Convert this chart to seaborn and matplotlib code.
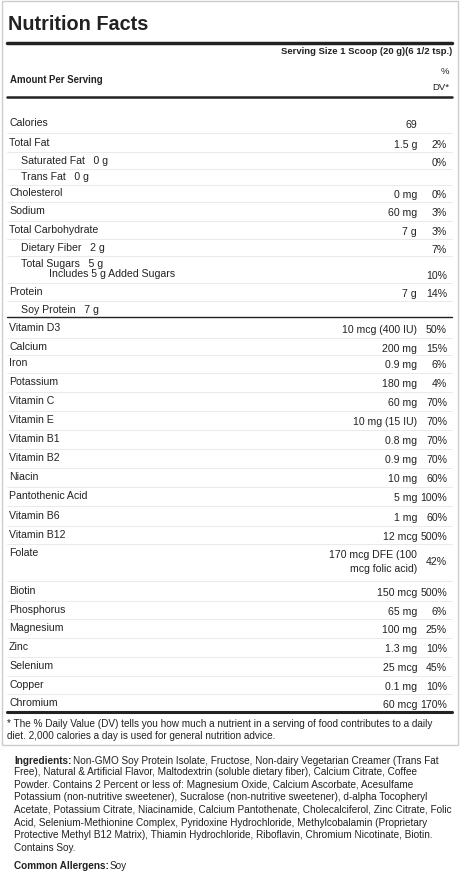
import matplotlib
matplotlib.use("Agg")
import matplotlib.pyplot as plt
import seaborn as sns

sns.set_theme(style="white")
plt.rcParams['font.family'] = ['Liberation Sans', 'DejaVu Sans']

labels = ["Calories", "Total Fat", "Saturated Fat   0 g", "Trans Fat   0 g", "Cholesterol", "Sodium",
          "Total Carbohydrate", "Dietary Fiber   2 g", "Total Sugars   5 g", "Includes 5 g Added Sugars",
          "Protein", "Soy Protein   7 g",
          "Vitamin D3", "Calcium", "Iron", "Potassium", "Vitamin C", "Vitamin E", "Vitamin B1", "Vitamin B2",
          "Niacin", "Pantothenic Acid", "Vitamin B6", "Vitamin B12", "Folate", "Biotin", "Phosphorus",
          "Magnesium", "Zinc", "Selenium", "Copper", "Chromium"]
amounts = ["69", "1.5 g", "", "", "0 mg", "60 mg", "7 g", "", "", "", "7 g", "",
           "10 mcg (400 IU)", "200 mg", "0.9 mg", "180 mg", "60 mg", "10 mg (15 IU)", "0.8 mg", "0.9 mg",
           "10 mg", "5 mg", "1 mg", "12 mcg", "170 mcg DFE (100\nmcg folic acid)", "150 mcg", "65 mg",
           "100 mg", "1.3 mg", "25 mcg", "0.1 mg", "60 mcg"]
dvs = ["", "2%", "0%", "", "0%", "3%", "3%", "7%", "", "10%", "14%", "",
       "50%", "15%", "6%", "4%", "70%", "70%", "70%", "70%", "60%", "100%", "60%", "500%", "42%",
       "500%", "6%", "25%", "10%", "45%", "10%", "170%"]
indent = [0, 0, 1, 1, 0, 0, 0, 1, 1, 2, 0, 1] + [0] * 20
rows_y = [123, 143, 161, 177, 193, 211, 230, 248, 264, 274, 292, 310,
          328, 347, 363, 382, 401, 420, 439, 458, 477, 496, 516, 535, 553, 591, 610,
          628, 647, 666, 685, 703]

ingredients_first = "Non-GMO Soy Protein Isolate, Fructose, Non-dairy Vegetarian Creamer (Trans Fat"
ingredients_rest = ("Free), Natural & Artificial Flavor, Maltodextrin (soluble dietary fiber), Calcium Citrate, Coffee\n"
                    "Powder. Contains 2 Percent or less of: Magnesium Oxide, Calcium Ascorbate, Acesulfame\n"
                    "Potassium (non-nutritive sweetener), Sucralose (non-nutritive sweetener), d-alpha Tocopheryl\n"
                    "Acetate, Potassium Citrate, Niacinamide, Calcium Pantothenate, Cholecalciferol, Zinc Citrate, Folic\n"
                    "Acid, Selenium-Methionine Complex, Pyridoxine Hydrochloride, Methylcobalamin (Proprietary\n"
                    "Protective Methyl B12 Matrix), Thiamin Hydrochloride, Riboflavin, Chromium Nicotinate, Biotin.\n"
                    "Contains Soy.")

fig = plt.figure(figsize=(4.73, 8.79), dpi=100)
ax = fig.add_axes([0, 0, 1, 1])
ax.set_xlim(0, 473)
ax.set_ylim(879, 0)
ax.axis("off")

c = "#222222"
ax.add_patch(plt.Rectangle((2, 2), 456, 744, fill=False, ec="#cccccc", lw=1))
ax.text(8, 24, "Nutrition Facts", fontsize=14.3, fontweight="bold", va="center", color=c)
ax.plot([7, 452], [44, 44], color=c, lw=2.5)
ax.text(452, 52, "Serving Size 1 Scoop (20 g)(6 1/2 tsp.)", fontsize=6.8, fontweight="bold",
        ha="right", va="center", color=c)
ax.text(10, 80, "Amount Per Serving", fontsize=6.9, fontweight="bold", va="center", color=c)
ax.text(449, 72, "%", fontsize=6.8, ha="right", va="center", color=c)
ax.text(449, 88, "DV*", fontsize=6.8, ha="right", va="center", color=c)
ax.plot([7, 452], [98, 98], color=c, lw=1.8)

for i, (lab, amt, dv, ind, y) in enumerate(zip(labels, amounts, dvs, indent, rows_y)):
    ax.text(9 + ind * 12 + (16 if ind == 2 else 0), y, lab, fontsize=7.6, va="center", color=c)
    if amt:
        ay = y + 9 if "\n" in amt else y + 2
        ax.text(417, ay, amt, fontsize=7.6, ha="right", va="center", color=c, linespacing=1.5)
    if dv:
        dy = y + 9 if "\n" in amounts[i] else y + 2
        ax.text(447, dy, dv, fontsize=7.6, ha="right", va="center", color=c)
    if i < len(rows_y) - 1 and i != 8 and i != 11:
        nxt = rows_y[i + 1]
        ly = (y + nxt) / 2 + 1
        if i == 24:
            ly = 582
        ax.plot([7, 452], [ly, ly], color="#e6e6e6", lw=0.6)
ax.plot([7, 452], [318, 318], color=c, lw=1.0)
ax.plot([7, 452], [713, 713], color=c, lw=2.2)

ax.text(7, 730, "* The % Daily Value (DV) tells you how much a nutrient in a serving of food contributes to a daily\n"
        "diet. 2,000 calories a day is used for general nutrition advice.",
        fontsize=7.2, va="center", color=c, linespacing=1.15)

ax.text(14, 761, "Ingredients:", fontsize=7.2, fontweight="bold", va="center", color=c)
ax.text(73, 761, ingredients_first, fontsize=7.2, va="center", color=c)
ax.text(14, 767, ingredients_rest, fontsize=7.2, va="top", color=c, linespacing=1.33)
ax.text(14, 866, "Common Allergens:", fontsize=7.2, fontweight="bold", va="center", color=c)
ax.text(110, 866, "Soy", fontsize=7.2, va="center", color=c)

fig.savefig("out.png", dpi=100, facecolor="white")
